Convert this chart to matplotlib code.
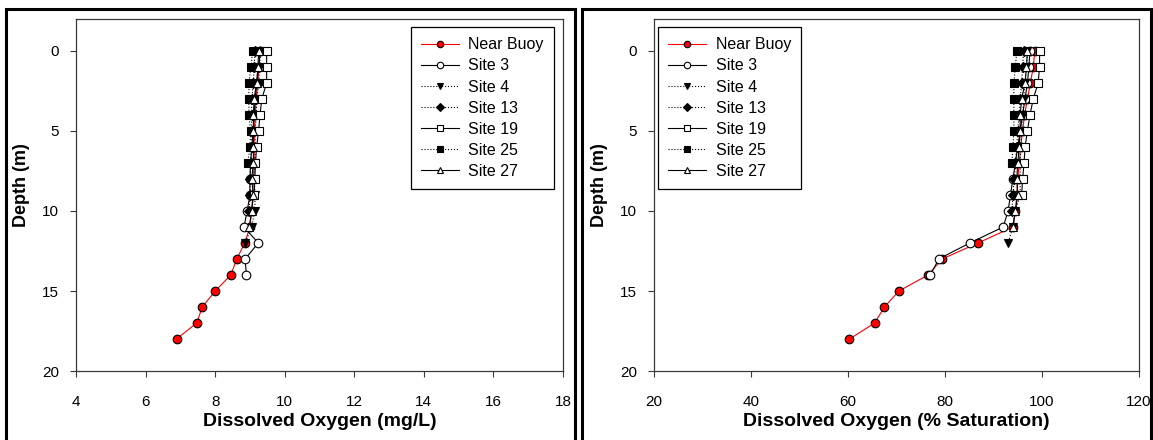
import matplotlib
matplotlib.use("Agg")
import matplotlib.pyplot as plt
from matplotlib.patches import Rectangle

plt.rcParams['font.family'] = ['Liberation Sans', 'DejaVu Sans']

# ---- data -------------------------------------------------------------
sites = ["Near Buoy", "Site 3", "Site 4", "Site 13", "Site 19", "Site 25", "Site 27"]

depth_buoy = [0, 1, 2, 3, 4, 5, 6, 7, 8, 9, 10, 11, 12, 13, 14, 15, 16, 17, 18]
depth_s3 = [0, 1, 2, 3, 4, 5, 6, 7, 8, 9, 10, 11, 12, 13, 14]
depth_s4 = [0, 1, 2, 3, 4, 5, 6, 7, 8, 9, 10, 11, 12]
depth_s13 = [0, 1, 2, 3, 4, 5, 6, 7, 8, 9, 10]
depth_s19 = [0, 1, 2, 3, 4, 5, 6, 7, 8, 9]
depth_s25 = [0, 1, 2, 3, 4, 5, 6, 7]
depth_s27 = [0, 1, 2, 3, 4, 5, 6, 7, 8, 9, 10, 11]

# dissolved oxygen, mg/L
do_buoy = [9.29, 9.26, 9.22, 9.18, 9.15, 9.13, 9.12, 9.12, 9.10, 9.08, 9.05, 9.00,
           8.85, 8.62, 8.45, 8.00, 7.63, 7.47, 6.89]
do_s3 = [9.30, 9.25, 9.20, 9.15, 9.12, 9.10, 9.05, 9.02, 9.00, 9.00, 8.92, 8.83,
         9.24, 8.86, 8.90]
do_s4 = [9.30, 9.28, 9.25, 9.20, 9.18, 9.15, 9.15, 9.14, 9.12, 9.15, 9.14, 9.05, 8.86]
do_s13 = [9.15, 9.12, 9.10, 9.05, 9.05, 9.05, 9.05, 9.02, 9.00, 9.00, 8.98]
do_s19 = [9.48, 9.48, 9.48, 9.34, 9.29, 9.25, 9.19, 9.16, 9.14, 9.12]
do_s25 = [9.08, 9.03, 8.97, 8.97, 8.97, 9.02, 9.00, 8.94]
do_s27 = [9.25, 9.23, 9.19, 9.12, 9.10, 9.10, 9.10, 9.10, 9.05, 9.10, 9.05, 8.98]

# dissolved oxygen, % saturation
sat_buoy = [98.5, 98.2, 97.6, 97.0, 96.4, 96.0, 95.6, 95.3, 95.0, 94.8, 94.5, 94.0,
            86.8, 79.4, 76.5, 70.5, 67.5, 65.5, 60.3]
sat_s3 = [97.5, 97.3, 97.0, 96.5, 96.0, 95.5, 95.0, 94.5, 94.0, 93.5, 93.0, 92.0,
          85.1, 78.7, 77.0]
sat_s4 = [97.0, 96.8, 96.5, 96.2, 96.0, 95.8, 95.6, 95.5, 95.5, 95.5, 94.5, 94.0, 93.0]
sat_s13 = [96.2, 96.0, 95.8, 95.5, 95.3, 95.0, 94.8, 94.5, 94.3, 94.0, 93.8]
sat_s19 = [99.5, 99.5, 99.2, 98.2, 97.5, 97.0, 96.5, 96.3, 96.0, 95.8]
sat_s25 = [94.8, 94.5, 94.2, 94.2, 94.2, 94.2, 94.0, 93.8]
sat_s27 = [97.0, 96.8, 96.5, 95.8, 95.5, 95.5, 95.3, 95.0, 94.8, 95.0, 94.5, 94.0]

depths = [depth_buoy, depth_s3, depth_s4, depth_s13, depth_s19, depth_s25, depth_s27]
do_mgl = [do_buoy, do_s3, do_s4, do_s13, do_s19, do_s25, do_s27]
do_sat = [sat_buoy, sat_s3, sat_s4, sat_s13, sat_s19, sat_s25, sat_s27]

x_ticks_mgl = [4, 6, 8, 10, 12, 14, 16, 18]
x_ticks_sat = [20, 40, 60, 80, 100, 120]
y_ticks = [0, 5, 10, 15, 20]

# ---- styles -----------------------------------------------------------
styles = [
    dict(marker='o', mfc='red', color='red', ls='-', ms=6.2),
    dict(marker='o', mfc='white', color='black', ls='-', ms=6.2),
    dict(marker='v', mfc='black', color='black', ls=':', ms=6.2),
    dict(marker='D', mfc='black', color='black', ls=':', ms=5.0),
    dict(marker='s', mfc='white', color='black', ls='-', ms=6.0),
    dict(marker='s', mfc='black', color='black', ls=':', ms=6.0),
    dict(marker='^', mfc='white', color='black', ls='-', ms=6.4),
]

W, H = 1153, 440
fig = plt.figure(figsize=(W / 100, H / 100), dpi=100)


def fx(px):
    return px / W


def fy(py):
    return 1 - py / H


spine_col = '#3a3a3a'
AX_TOP, AX_BOT = 19, 371


def panel(left_px, right_px, xvals, xlim, xticks, xlabel, legend_px):
    width_px = right_px - left_px
    ax = fig.add_axes([fx(left_px), fy(AX_BOT), fx(width_px),
                       (AX_BOT - AX_TOP) / H])
    for d, v, lab, st in zip(depths, xvals, sites, styles):
        ax.plot(v, d, label=lab, lw=0.8, mec='black', mew=0.8, **st)
    ax.set_xlim(*xlim)
    ax.set_ylim(20, -2)
    ax.set_xticks(xticks)
    ax.set_yticks(y_ticks)
    ax.tick_params(direction='out', length=4, width=0.8, color=spine_col,
                   labelsize=11)
    ax.tick_params(axis='x', pad=13)
    ax.tick_params(axis='y', pad=8)
    for s in ax.spines.values():
        s.set_color(spine_col)
        s.set_linewidth(0.9)
    ax.set_xlabel(xlabel, fontsize=14, fontweight='bold', labelpad=3)
    ax.set_ylabel('Depth (m)', fontsize=13, fontweight='bold')
    # y label: 46 px left of the axis, a little above the axis midpoint
    ax.yaxis.set_label_coords(-46 / width_px, (AX_BOT - 185) / (AX_BOT - AX_TOP))
    leg = ax.legend(loc='upper left', bbox_to_anchor=(fx(legend_px[0]), fy(legend_px[1])),
                    bbox_transform=fig.transFigure, borderaxespad=0,
                    fancybox=False, shadow=False, framealpha=1, edgecolor='black',
                    fontsize=11.5, handlelength=2.35, handletextpad=0.6,
                    labelspacing=0.38, borderpad=0.65, markerscale=0.75)
    leg.get_frame().set_linewidth(0.9)
    return ax


panel(76, 563, do_mgl, (4, 18), x_ticks_mgl, 'Dissolved Oxygen (mg/L)', (411, 27))
panel(654, 1139, do_sat, (20, 120), x_ticks_sat, 'Dissolved Oxygen (% Saturation)', (658, 27))

# outer frames around each panel
for x0, x1 in [(5.5, 574.5), (581.5, 1150.5)]:
    fig.patches.append(Rectangle((fx(x0), fy(460)), fx(x1 - x0), (460 - 9.5) / H,
                                 transform=fig.transFigure, fill=False,
                                 edgecolor='black', linewidth=2.2, zorder=10))

fig.savefig('out.png', dpi=100)
